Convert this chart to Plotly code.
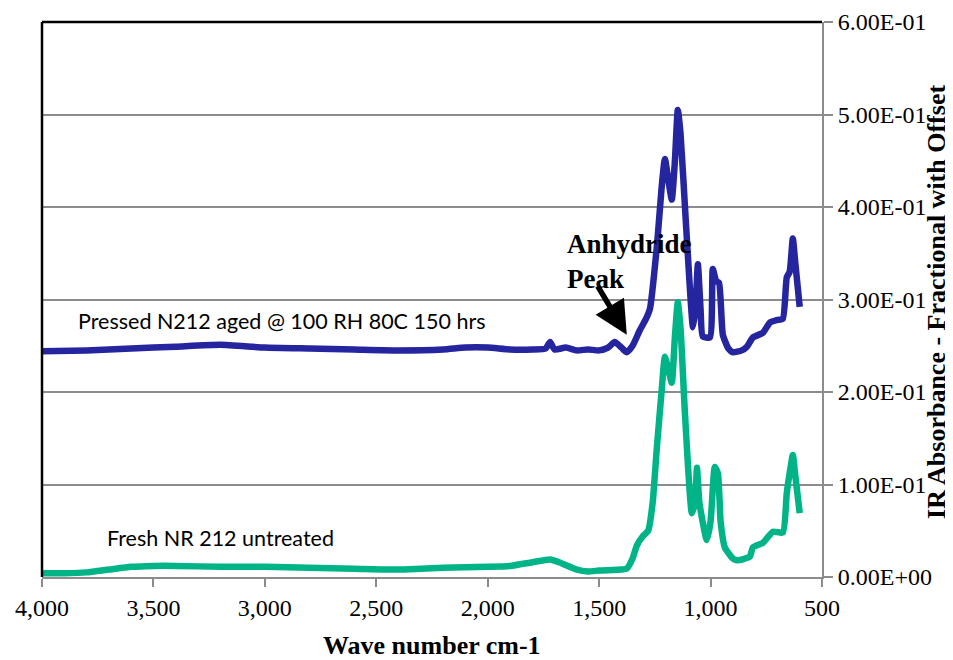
import plotly.graph_objects as go

# ---- data ----
wn_aged = [4000, 3800, 3600, 3400, 3200, 3000, 2800, 2600, 2400, 2200, 2100, 2000, 1900,
           1800, 1740, 1720, 1700, 1650, 1600, 1550, 1500, 1460, 1430, 1400, 1376, 1350,
           1317, 1290, 1272, 1240, 1220, 1205, 1190, 1174, 1160, 1147, 1135, 1110, 1079,
           1068, 1057, 1045, 1035, 1003, 990, 975, 962, 945, 920, 900, 860, 837, 810, 765,
           734, 700, 676, 658, 645, 631, 620, 600]
abs_aged = [0.244, 0.245, 0.247, 0.249, 0.251, 0.248, 0.247, 0.246, 0.245, 0.246, 0.248,
            0.248, 0.246, 0.246, 0.247, 0.254, 0.246, 0.248, 0.245, 0.246, 0.245, 0.248,
            0.254, 0.248, 0.243, 0.250, 0.267, 0.279, 0.290, 0.360, 0.420, 0.452, 0.430,
            0.408, 0.450, 0.505, 0.480, 0.380, 0.270, 0.290, 0.338, 0.290, 0.260, 0.259,
            0.333, 0.320, 0.318, 0.262, 0.247, 0.243, 0.245, 0.249, 0.259, 0.264, 0.275,
            0.278, 0.279, 0.324, 0.330, 0.366, 0.340, 0.292]

wn_fresh = [4000, 3900, 3800, 3700, 3600, 3500, 3400, 3200, 3000, 2800, 2600, 2400, 2300,
            2200, 2000, 1900, 1800, 1720, 1680, 1600, 1550, 1500, 1400, 1376, 1350, 1331,
            1304, 1280, 1260, 1241, 1220, 1205, 1190, 1174, 1160, 1147, 1135, 1115, 1084,
            1070, 1061, 1050, 1017, 1000, 981, 967, 955, 936, 900, 882, 824, 810, 765, 720,
            676, 658, 640, 631, 620, 600]
abs_fresh = [0.004, 0.004, 0.005, 0.008, 0.011, 0.012, 0.012, 0.011, 0.011, 0.010, 0.009,
             0.008, 0.009, 0.010, 0.011, 0.012, 0.016, 0.019, 0.016, 0.008, 0.006, 0.007,
             0.008, 0.009, 0.020, 0.034, 0.044, 0.050, 0.080, 0.140, 0.200, 0.238, 0.225,
             0.210, 0.260, 0.297, 0.270, 0.177, 0.069, 0.080, 0.118, 0.080, 0.040, 0.060,
             0.119, 0.112, 0.060, 0.032, 0.020, 0.018, 0.022, 0.032, 0.037, 0.049, 0.048,
             0.091, 0.120, 0.132, 0.110, 0.069]

y_ticks = [0.0, 0.1, 0.2, 0.3, 0.4, 0.5, 0.6]
y_ticktext = [f"{v:.2E}" for v in y_ticks]
x_ticks = [4000, 3500, 3000, 2500, 2000, 1500, 1000, 500]

label_aged = "Pressed N212 aged @ 100 RH 80C 150 hrs"
label_fresh = "Fresh NR 212 untreated"
peak_label = "Anhydride<br>Peak"
y_title = "IR Absorbance - Fractional with Offset"
x_title = "Wave number cm-1"

BLUE = "#2525A0"
GREEN = "#00B487"
SERIF = "Liberation Serif, Times New Roman, serif"
SANS = "Lato, Calibri, sans-serif"

fig = go.Figure()
fig.add_trace(go.Scatter(x=wn_aged, y=abs_aged, mode="lines",
                         line=dict(color=BLUE, width=6.5, shape="spline", smoothing=0.5),
                         showlegend=False))
fig.add_trace(go.Scatter(x=wn_fresh, y=abs_fresh, mode="lines",
                         line=dict(color=GREEN, width=6.5, shape="spline", smoothing=0.5),
                         showlegend=False))

# page body has an 8px margin: figure is shrunk so the plot area lands where it should
fig.update_layout(
    width=945, height=652,
    margin=dict(l=34, r=131, t=14, b=83),
    paper_bgcolor="white", plot_bgcolor="white",
    xaxis=dict(range=[4000, 500], tickvals=x_ticks, tickformat=",d", automargin=False,
               showgrid=False, zeroline=False, showline=True, linecolor="#8c8c8c",
               linewidth=2, ticks="outside", ticklen=8, tickwidth=2, tickcolor="#8c8c8c",
               tickfont=dict(family=SERIF, size=24, color="black")),
    yaxis=dict(range=[0, 0.6], side="right", tickvals=y_ticks, ticktext=y_ticktext,
               automargin=False,
               showgrid=True, gridcolor="#8c8c8c", gridwidth=2, zeroline=False,
               showline=True, linecolor="#8c8c8c", linewidth=2,
               ticks="outside", ticklen=9, tickwidth=2, tickcolor="#8c8c8c",
               tickfont=dict(family=SERIF, size=24, color="black")),
    shapes=[
        dict(type="line", xref="paper", yref="paper", x0=0, x1=1, y0=1, y1=1,
             line=dict(color="black", width=2.5)),
        dict(type="line", xref="paper", yref="paper", x0=0, x1=0, y0=0, y1=1,
             line=dict(color="black", width=2.5)),
    ],
    annotations=[
        dict(text=label_aged, xref="paper", yref="paper", x=0.044, y=0.462,
             xanchor="left", yanchor="middle", showarrow=False,
             font=dict(family=SANS, size=21.5, color="black")),
        dict(text=label_fresh, xref="paper", yref="paper", x=0.081, y=0.070,
             xanchor="left", yanchor="middle", showarrow=False,
             font=dict(family=SANS, size=21.5, color="black")),
        dict(text="<b>" + peak_label + "</b>", xref="paper", yref="paper",
             x=0.671, y=0.569, xanchor="left", yanchor="middle", align="left",
             showarrow=False, font=dict(family=SERIF, size=27, color="black")),
        dict(text="", x=1376, y=0.262, xref="x", yref="y", showarrow=True,
             ax=-30, ay=-50, arrowhead=2, arrowsize=1.2, arrowwidth=5.5,
             arrowcolor="black"),
        dict(text="<b>" + y_title + "</b>", xref="paper", yref="paper",
             x=1.147, y=0.495, xanchor="center", yanchor="middle", textangle=-90,
             showarrow=False, font=dict(family=SERIF, size=26, color="black")),
        dict(text="<b>" + x_title + "</b>", xref="paper", yref="paper",
             x=0.5, y=-0.124, xanchor="center", yanchor="middle",
             showarrow=False, font=dict(family=SERIF, size=26, color="black")),
    ],
)

fig.write_html("out.html")
